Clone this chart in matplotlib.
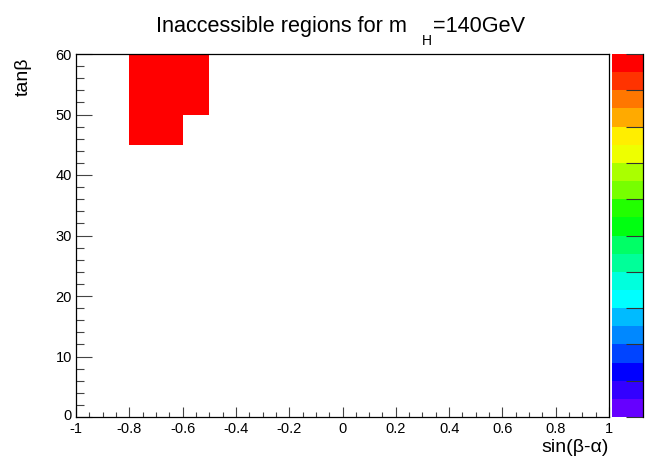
import matplotlib
matplotlib.use('agg')
import matplotlib.pyplot as plt
import matplotlib.transforms as mtransforms
import numpy as np
from matplotlib.colors import ListedColormap
from matplotlib.ticker import MultipleLocator, FixedLocator, FuncFormatter

plt.rcParams['font.family'] = ['Liberation Sans', 'DejaVu Sans']

# binning of the scan in sin(beta-alpha) and tan(beta)
x_edges = np.arange(-1.0, 1.0001, 0.1)
y_edges = np.arange(0.0, 60.001, 5.0)

# bins that are inaccessible (bin centres) and their content
excl_x = [-0.75, -0.75, -0.75, -0.65, -0.65, -0.65, -0.55, -0.55]
excl_y = [47.5, 52.5, 57.5, 47.5, 52.5, 57.5, 52.5, 57.5]
excl_z = [1, 1, 1, 1, 1, 1, 1, 1]

x_ticks = [-1, -0.8, -0.6, -0.4, -0.2, 0, 0.2, 0.4, 0.6, 0.8, 1]
y_ticks = [0, 10, 20, 30, 40, 50, 60]
z_ticks = [0, 0.1, 0.2, 0.3, 0.4, 0.5, 0.6, 0.7, 0.8, 0.9, 1.0]

# palette, bottom to top
palette = ['#6600ff', '#3300ff', '#0000ff', '#0044ff', '#0088ff', '#00bbff',
           '#00ffff', '#00ffdd', '#00ff99', '#00ff66', '#00ff11', '#22ff00',
           '#77ff00', '#aaff00', '#eeff00', '#ffee00', '#ffaa00', '#ff7700',
           '#ff3300', '#ff0000']
cmap = ListedColormap(palette)

W, H = 645, 462
fig = plt.figure(figsize=(W / 100, H / 100), dpi=100)
fig.patch.set_facecolor('white')

def fx(x):
    return x / W

def fy(y):
    return 1 - y / H

ax = fig.add_axes([fx(76), fy(417), fx(609 - 76), (417 - 54) / H])
hist, _, _ = np.histogram2d(excl_x, excl_y, bins=[x_edges, y_edges], weights=excl_z)
hist = np.ma.masked_equal(hist.T, 0)
ax.pcolormesh(x_edges, y_edges, hist, cmap=cmap, vmin=0, vmax=1)

ax.set_xlim(-1, 1)
ax.set_ylim(0, 60)
for s in ax.spines.values():
    s.set_linewidth(0.9)

ax.xaxis.set_major_locator(FixedLocator(x_ticks))
ax.xaxis.set_minor_locator(MultipleLocator(0.05))
ax.yaxis.set_major_locator(FixedLocator(y_ticks))
ax.yaxis.set_minor_locator(MultipleLocator(2))
fmt = FuncFormatter(lambda v, p: '%g' % round(v, 6) if abs(v) > 1e-9 else '0')
ax.xaxis.set_major_formatter(fmt)
ax.yaxis.set_major_formatter(fmt)

ax.tick_params(axis='x', which='major', direction='in', length=7, width=0.8,
               pad=3.5, labelsize=10.5, color='#444444')
ax.tick_params(axis='x', which='minor', direction='in', length=3.5, width=0.8,
               color='#444444')
ax.tick_params(axis='y', which='major', direction='in', length=11.5, width=0.8,
               pad=3, labelsize=10.5, color='#444444')
ax.tick_params(axis='y', which='minor', direction='in', length=5.8, width=0.8,
               color='#444444')

# lift the "0" of the y axis a little off the x labels
fig.canvas.draw()
ylab0 = ax.yaxis.get_majorticklabels()[0]
ylab0.set_transform(ylab0.get_transform() +
                    mtransforms.ScaledTranslation(0, 3 / 100, fig.dpi_scale_trans))

# palette axis on the right
cax = fig.add_axes([fx(612), fy(417), fx(31), (417 - 54) / H])
z_edges = np.linspace(0, 1, len(palette) + 1)
cax.pcolormesh([0, 1], z_edges, np.array([[(a + b) / 2] for a, b in zip(z_edges[:-1], z_edges[1:])]),
               cmap=cmap, vmin=0, vmax=1)
cax.set_xlim(0, 1)
cax.set_ylim(0, 1)
for k in ['left', 'top', 'bottom']:
    cax.spines[k].set_visible(False)
cax.spines['right'].set_linewidth(0.9)
cax.set_xticks([])
cax.yaxis.tick_right()
cax.yaxis.set_major_locator(FixedLocator(z_ticks))
cax.tick_params(axis='y', direction='in', length=12, width=0.8, labelright=False,
                color='#333333')

# titles
fig.text(fx(156), fy(32), 'Inaccessible regions for m', fontsize=15.6,
         va='baseline', ha='left')
fig.text(fx(421.5), fy(45), 'H', fontsize=10, va='baseline', ha='left')
fig.text(fx(432.5), fy(32), '=140GeV', fontsize=15.6, va='baseline', ha='left')

fig.text(fx(609), fy(452), 'sin(β-α)', fontsize=14, va='baseline', ha='right')
fig.text(fx(23), fy(58), 'tanβ', fontsize=14, rotation=90, va='top', ha='center')

fig.savefig('out.png', dpi=100)
